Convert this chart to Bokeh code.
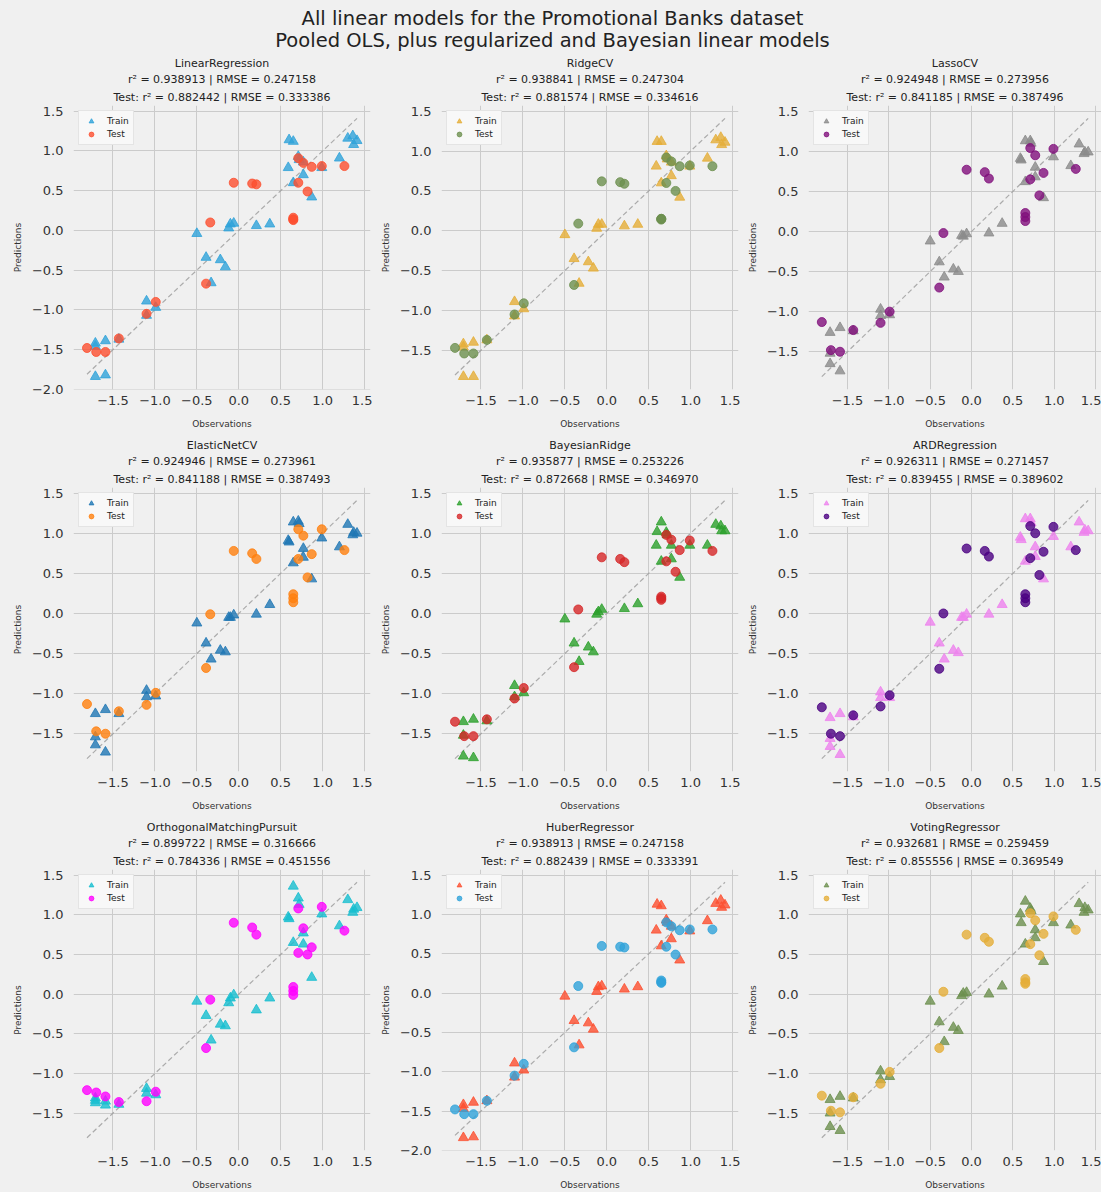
from bokeh.plotting import figure
from bokeh.layouts import column, row
from bokeh.models import Title, Range1d, SingleIntervalTicker, CustomJSTickFormatter
from bokeh.embed import file_html
from bokeh.resources import INLINE
from bokeh.core.properties import value

# ---------------- data ----------------
suptitle = ["All linear models for the Promotional Banks dataset",
            "Pooled OLS, plus regularized and Bayesian linear models"]

train_obs = [-1.71, -1.71, -1.71, -1.59, -1.59, -1.43, -1.10, -1.10, -0.99, -0.50, -0.39, -0.33,
             -0.22, -0.16, -0.12, -0.10, -0.06, 0.21, 0.37, 0.59, 0.60, 0.65, 0.65, 0.71, 0.72,
             0.77, 0.77, 0.87, 0.99, 1.20, 1.30, 1.36, 1.37, 1.41]
test_obs = [-1.81, -1.70, -1.59, -1.43, -1.10, -0.99, -0.39, -0.34, -0.06, 0.16, 0.21, 0.65,
            0.65, 0.65, 0.71, 0.71, 0.77, 0.82, 0.87, 0.99, 1.26]

lr_train = [-1.42, -1.46, -1.84, -1.39, -1.82, -1.37, -0.89, -1.07, -0.97, -0.04, -0.34, -0.66, -0.37, -0.46, 0.03, 0.08, 0.09, 0.06, 0.08, 0.79, 1.14, 1.12, 0.60, 0.93, 0.89, 0.86, 0.70, 0.42, 0.79, 0.91, 1.16, 1.19, 1.08, 1.13]
lr_test = [-1.48, -1.53, -1.53, -1.36, -1.05, -0.90, -0.67, 0.10, 0.60, 0.59, 0.58, 0.16, 0.14, 0.13, 0.91, 0.60, 0.85, 0.49, 0.80, 0.81, 0.81]
ridge_train = [-1.42, -1.46, -1.83, -1.40, -1.83, -1.37, -0.89, -1.07, -0.98, -0.05, -0.35, -0.66, -0.39, -0.47, 0.03, 0.08, 0.08, 0.06, 0.08, 0.81, 1.12, 1.12, 0.60, 0.94, 0.90, 0.86, 0.69, 0.42, 0.81, 0.91, 1.14, 1.17, 1.08, 1.11]
ridge_test = [-1.47, -1.54, -1.54, -1.37, -1.05, -0.91, -0.68, 0.09, 0.62, 0.61, 0.59, 0.15, 0.15, 0.14, 0.92, 0.60, 0.87, 0.50, 0.81, 0.82, 0.81]
lasso_train = [-1.26, -1.52, -1.65, -1.20, -1.74, -1.24, -0.97, -1.05, -1.04, -0.12, -0.38, -0.57, -0.47, -0.50, -0.05, -0.06, -0.03, -0.02, 0.10, 0.91, 0.89, 1.13, 0.62, 1.13, 1.10, 0.80, 0.68, 0.42, 0.93, 0.82, 1.09, 0.97, 0.99, 0.99]
lasso_test = [-1.13, -1.48, -1.50, -1.23, -1.14, -1.00, -0.70, -0.02, 0.77, 0.74, 0.66, 0.23, 0.18, 0.13, 1.04, 0.65, 0.95, 0.45, 0.73, 1.03, 0.78]
enet_train = [-1.25, -1.54, -1.64, -1.20, -1.73, -1.25, -0.96, -1.04, -1.03, -0.12, -0.37, -0.57, -0.46, -0.48, -0.05, -0.05, -0.02, -0.01, 0.11, 0.91, 0.89, 1.14, 0.63, 1.15, 1.12, 0.81, 0.70, 0.43, 0.94, 0.83, 1.11, 0.98, 1.01, 1.00]
enet_test = [-1.13, -1.47, -1.50, -1.22, -1.14, -0.99, -0.68, -0.01, 0.78, 0.75, 0.68, 0.24, 0.19, 0.14, 1.05, 0.68, 0.97, 0.45, 0.74, 1.05, 0.79]
br_train = [-1.35, -1.52, -1.78, -1.32, -1.80, -1.34, -0.90, -1.04, -0.99, -0.07, -0.37, -0.60, -0.42, -0.48, -0.01, 0.02, 0.05, 0.06, 0.12, 0.85, 1.02, 1.14, 0.65, 1.01, 0.98, 0.85, 0.68, 0.45, 0.85, 0.85, 1.11, 1.09, 1.03, 1.03]
br_test = [-1.35, -1.53, -1.53, -1.32, -1.06, -0.93, -0.67, 0.05, 0.70, 0.68, 0.64, 0.21, 0.19, 0.17, 0.98, 0.65, 0.92, 0.52, 0.79, 0.91, 0.78]
ard_train = [-1.30, -1.56, -1.66, -1.25, -1.76, -1.29, -0.98, -1.05, -1.05, -0.11, -0.37, -0.57, -0.46, -0.49, -0.05, -0.05, -0.01, -0.01, 0.11, 0.95, 0.92, 1.18, 0.65, 1.18, 1.13, 0.83, 0.71, 0.43, 0.96, 0.83, 1.14, 1.01, 1.04, 1.03]
ard_test = [-1.17, -1.50, -1.53, -1.27, -1.16, -1.02, -0.69, 0.00, 0.81, 0.78, 0.71, 0.24, 0.19, 0.14, 1.09, 0.69, 1.00, 0.48, 0.77, 1.08, 0.79]
omp_train = [-1.31, -1.34, -1.37, -1.35, -1.40, -1.39, -1.19, -1.25, -1.27, -0.09, -0.27, -0.58, -0.38, -0.40, -0.11, -0.05, -0.01, -0.20, -0.05, 0.97, 0.95, 1.36, 0.65, 1.21, 1.13, 0.77, 0.63, 0.21, 1.01, 0.86, 1.19, 1.03, 1.07, 1.09]
omp_test = [-1.21, -1.24, -1.29, -1.36, -1.35, -1.23, -0.68, -0.07, 0.90, 0.84, 0.75, 0.09, 0.04, -0.01, 1.08, 0.52, 0.83, 0.50, 0.59, 1.10, 0.80]
huber_train = [-1.42, -1.47, -1.84, -1.39, -1.83, -1.37, -0.89, -1.07, -0.98, -0.04, -0.35, -0.66, -0.38, -0.46, 0.02, 0.08, 0.09, 0.05, 0.08, 0.80, 1.13, 1.11, 0.60, 0.93, 0.90, 0.85, 0.69, 0.42, 0.79, 0.92, 1.14, 1.18, 1.09, 1.12]
huber_test = [-1.48, -1.54, -1.54, -1.37, -1.05, -0.90, -0.69, 0.09, 0.60, 0.59, 0.58, 0.16, 0.14, 0.13, 0.90, 0.59, 0.85, 0.49, 0.80, 0.81, 0.81]
vote_train = [-1.33, -1.50, -1.67, -1.29, -1.72, -1.31, -0.97, -1.08, -1.04, -0.09, -0.35, -0.60, -0.42, -0.46, -0.02, 0.01, 0.02, 0.00, 0.10, 1.01, 0.90, 1.17, 0.63, 1.08, 1.05, 0.81, 0.71, 0.41, 0.90, 0.87, 1.14, 1.03, 1.09, 1.06]
vote_test = [-1.28, -1.47, -1.49, -1.30, -1.13, -0.98, -0.68, 0.03, 0.75, 0.71, 0.66, 0.19, 0.15, 0.13, 1.02, 0.63, 0.93, 0.49, 0.76, 0.98, 0.81]

model_names = ["LinearRegression", "RidgeCV", "LassoCV", "ElasticNetCV", "BayesianRidge",
               "ARDRegression", "OrthogonalMatchingPursuit", "HuberRegressor", "VotingRegressor"]
train_r2 = ["0.938913", "0.938841", "0.924948", "0.924946", "0.935877", "0.926311", "0.899722", "0.938913", "0.932681"]
train_rmse = ["0.247158", "0.247304", "0.273956", "0.273961", "0.253226", "0.271457", "0.316666", "0.247158", "0.259459"]
test_r2 = ["0.882442", "0.881574", "0.841185", "0.841188", "0.872668", "0.839455", "0.784336", "0.882439", "0.855556"]
test_rmse = ["0.333386", "0.334616", "0.387496", "0.387493", "0.346970", "0.389602", "0.451556", "0.333391", "0.369549"]
train_colors = ["#30a2da", "#e5ae38", "#8b8b8b", "#1f77b4", "#2ca02c", "violet", "#17becf", "#fc4f30", "#6d904f"]
test_colors = ["#fc4f30", "#6d904f", "#810f7c", "#ff7f0e", "#d62728", "indigo", "#ff00ff", "#30a2da", "#e5ae38"]
train_preds = [lr_train, ridge_train, lasso_train, enet_train, br_train, ard_train, omp_train, huber_train, vote_train]
test_preds = [lr_test, ridge_test, lasso_test, enet_test, br_test, ard_test, omp_test, huber_test, vote_test]

# ---------------- style / layout ----------------
BG = "#f0f0f0"
FONT = "DejaVu Sans"
FRAME_H = 284
frame_w = [297, 297, 293]
border_l = [73, 69, 68]
border_r = [2, 2, 0]
border_t = [54, 55, 55]
border_b = [43, 43, 39]
HEAD_W, HEAD_H = 1101, 51

all_obs = train_obs + test_obs
x_lo, x_hi = min(all_obs), max(all_obs)
x_pad = 0.05 * (x_hi - x_lo)

fmt = CustomJSTickFormatter(code="return (tick < -1e-9 ? '\\u2212' : '') + Math.abs(tick).toFixed(1);")


def make_panel(k, r, c):
    tr, te = train_preds[k], test_preds[k]
    ys = tr + te + [x_lo, x_hi]
    y_lo, y_hi = min(ys), max(ys)
    y_pad = 0.05 * (y_hi - y_lo)
    w = border_l[c] + frame_w[c] + border_r[c]
    h = border_t[r] + FRAME_H + border_b[r]
    p = figure(width=w, height=h, output_backend="svg", toolbar_location=None, title=None,
               x_range=Range1d(x_lo - x_pad, x_hi + x_pad),
               y_range=Range1d(y_lo - y_pad, y_hi + y_pad),
               min_border_left=border_l[c], min_border_right=border_r[c],
               min_border_top=border_t[r], min_border_bottom=border_b[r],
               background_fill_color=BG, border_fill_color=BG, outline_line_color=None,
               styles={"background-color": BG})
    lines = [f"Test: r\u00b2 = {test_r2[k]} | RMSE = {test_rmse[k]}",
             f"r\u00b2 = {train_r2[k]} | RMSE = {train_rmse[k]}",
             model_names[k]]
    for i, t in enumerate(lines):
        p.add_layout(Title(text=t, align="center", text_font_size="11px", text_font_style="normal",
                           text_font=FONT, text_color="#222222", standoff=4 if i == 0 else 1), "above")

    p.line([x_lo, x_hi], [x_lo, x_hi], line_color="#9a9a9a", line_dash="5 3", line_width=1.2, line_alpha=0.8)
    p.scatter(train_obs, tr, marker="triangle", size=10, fill_color=train_colors[k],
              line_color=train_colors[k], fill_alpha=0.8, line_alpha=0.8, legend_label="Train")
    p.scatter(test_obs, te, marker="circle", size=9, fill_color=test_colors[k],
              line_color=test_colors[k], fill_alpha=0.8, line_alpha=0.8, legend_label="Test")

    for ax in (p.xaxis[0], p.yaxis[0]):
        ax.ticker = SingleIntervalTicker(interval=0.5, num_minor_ticks=0)
        ax.formatter = fmt
        ax.axis_line_color = None
        ax.major_tick_line_color = None
        ax.minor_tick_line_color = None
        ax.major_label_text_font = FONT
        ax.major_label_text_font_size = "13px"
        ax.major_label_text_color = "#333333"
        ax.axis_label_text_font = FONT
        ax.axis_label_text_font_size = "9px"
        ax.axis_label_text_font_style = "normal"
        ax.axis_label_text_color = "#333333"
    p.xaxis.axis_label = "Observations"
    p.yaxis.axis_label = "Predictions"
    p.xaxis.major_label_standoff = 0
    p.xaxis.axis_label_standoff = 11
    p.yaxis.major_label_standoff = 4
    p.yaxis.axis_label_standoff = 6
    p.grid.grid_line_color = "#cbcbcb"
    p.grid.grid_line_width = 1

    lg = p.legend[0]
    lg.location = "top_left"
    lg.margin = 5
    lg.padding = 4
    lg.spacing = 1
    lg.glyph_width = 16
    lg.glyph_height = 12
    lg.label_height = 12
    lg.label_standoff = 8
    lg.label_text_font = FONT
    lg.label_text_font_size = "9px"
    lg.label_text_color = "#222222"
    lg.background_fill_color = "#f8f8f8"
    lg.background_fill_alpha = 1.0
    lg.border_line_color = "#d0d0d0"
    lg.border_line_width = 1
    return p


# main title
head = figure(width=HEAD_W, height=HEAD_H, output_backend="svg", toolbar_location=None, title=None,
              x_range=Range1d(0, HEAD_W), y_range=Range1d(0, HEAD_H), min_border=0,
              background_fill_color=BG, border_fill_color=BG, outline_line_color=None,
              styles={"background-color": BG})
head.axis.visible = False
head.grid.visible = False
head.text(x=[552, 552], y=[HEAD_H - 18, HEAD_H - 40], text=suptitle, text_align="center",
          text_baseline="middle", text_font=value(FONT), text_font_size="19.5px", text_color="#222222")

rows = []
for r in range(3):
    rows.append(row(*[make_panel(r * 3 + c, r, c) for c in range(3)],
                    styles={"background-color": BG}))

layout = column(head, *rows, styles={"background-color": BG})
html = file_html(layout, INLINE, title="All linear models")
html = html.replace("<body>", '<body style="background-color:#f0f0f0;">', 1)
open("out.html", "w").write(html)
